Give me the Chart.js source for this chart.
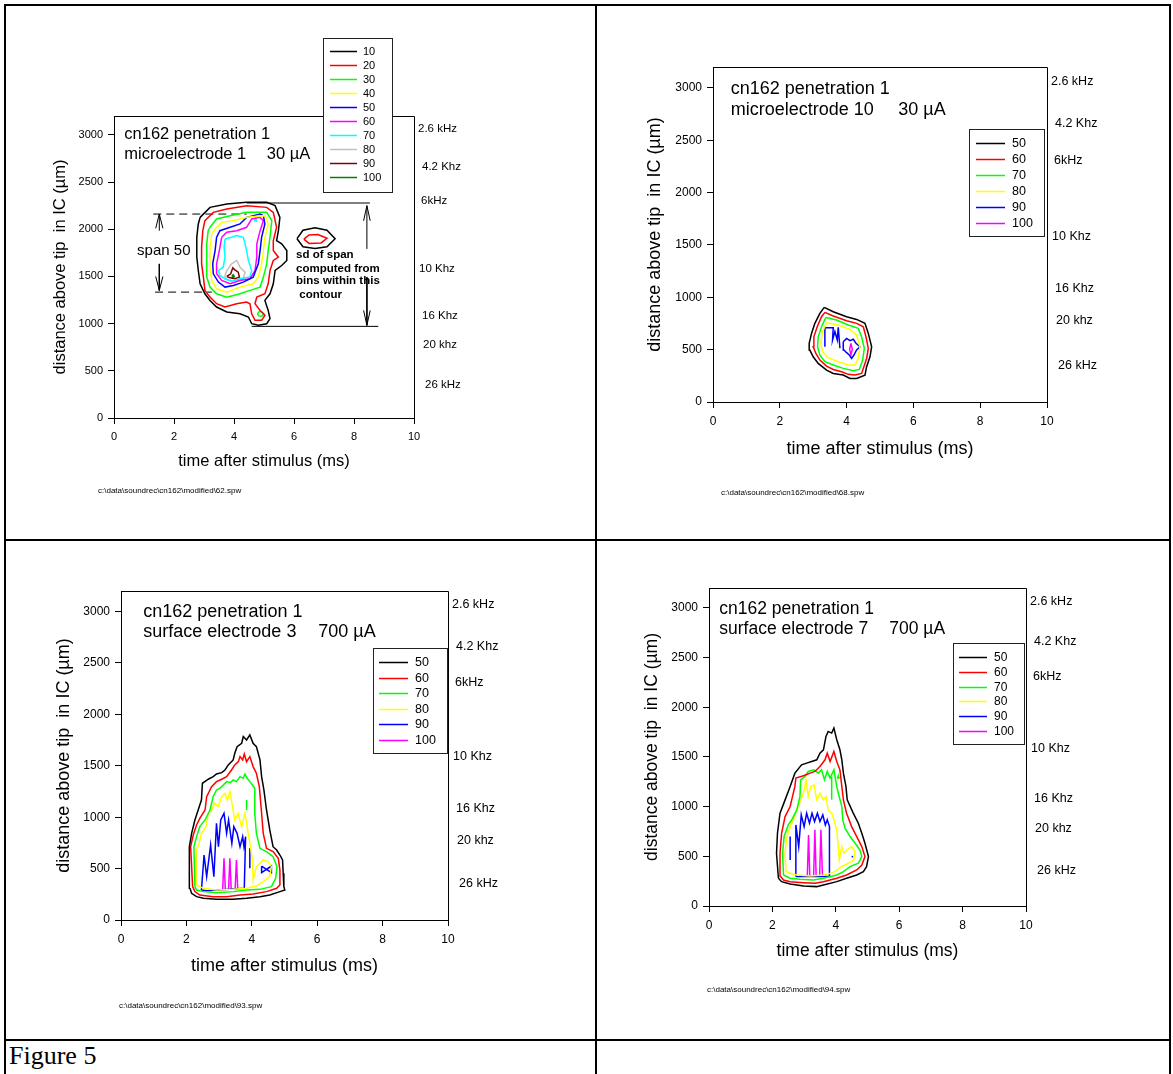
<!DOCTYPE html>
<html><head><meta charset="utf-8">
<script src="https://cdn.jsdelivr.net/npm/chart.js@4.4.1/dist/chart.umd.min.js"></script>
<style>
html,body{margin:0;padding:0;background:#fff;}
body{width:1173px;height:1074px;position:relative;overflow:hidden;}
.ln{position:absolute;background:#000;}
canvas{position:absolute;}
#fig{position:absolute;left:9px;top:1041px;font-family:"Liberation Serif","Times New Roman",serif;font-size:26px;line-height:30px;color:#000;}
</style></head><body>
<div class="ln" style="left:4px;top:4px;width:1167px;height:2px"></div>
<div class="ln" style="left:4px;top:4px;width:2px;height:1070px"></div>
<div class="ln" style="left:1169px;top:4px;width:2px;height:1070px"></div>
<div class="ln" style="left:595px;top:4px;width:2px;height:1070px"></div>
<div class="ln" style="left:4px;top:539px;width:1167px;height:2px"></div>
<div class="ln" style="left:4px;top:1039px;width:1167px;height:2px"></div>
<canvas id="c1"></canvas><canvas id="c2"></canvas><canvas id="c3"></canvas><canvas id="c4"></canvas>
<div id="fig">Figure 5</div>
<script>
// ---------- axis / label data ----------
const xTicks = [0, 2, 4, 6, 8, 10];
const yTicks = [0, 500, 1000, 1500, 2000, 2500, 3000];
const freqLabels = ['2.6 kHz', '4.2 Khz', '6kHz', '10 Khz', '16 Khz', '20 khz', '26 kHz'];
const freqDepths = [3065, 2660, 2305, 1585, 1085, 775, 352];
const levels1 = ['10', '20', '30', '40', '50', '60', '70', '80', '90', '100'];
const levels = ['50', '60', '70', '80', '90', '100'];
const colors1 = ['#000000', '#ff0000', '#00ff00', '#ffff00', '#0000ff', '#ff00ff', '#00ffff', '#c0c0c0', '#800000', '#008000'];
const colors = ['#000000', '#ff0000', '#00ff00', '#ffff00', '#0000ff', '#ff00ff'];

// ---------- panel 1 contours (x ms, y um) ----------
const p1_10 = [2.87,2126, 3.2,2232, 3.76,2267, 4.42,2285, 5.09,2285, 5.37,2250, 5.53,2126, 5.48,1985, 5.42,1880, 5.59,1845, 5.76,1774, 5.76,1669, 5.59,1616, 5.37,1563, 5.31,1422, 5.2,1316, 5.03,1246, 5.14,1140, 5.2,1052, 5.09,999, 4.81,982, 4.59,999, 4.48,1070, 4.2,1105, 3.76,1123, 3.42,1176, 3.2,1246, 3.03,1316, 2.87,1422, 2.81,1563, 2.76,1704, 2.76,1915, 2.81,2056];
const p1_10b = [6.1,1900, 6.3,1990, 6.7,2017, 7.1,1990, 7.37,1900, 7.1,1815, 6.7,1796, 6.3,1815];
const p1_20 = [3.03,2091, 3.31,2179, 3.76,2214, 4.42,2250, 5.09,2232, 5.31,2179, 5.42,2021, 5.31,1880, 5.31,1774, 5.48,1704, 5.31,1669, 5.2,1563, 5.14,1422, 5.03,1316, 4.76,1281, 4.7,1211, 4.87,1140, 5.03,1088, 4.92,1035, 4.7,1035, 4.59,1105, 4.53,1211, 4.42,1228, 4.09,1211, 3.7,1176, 3.42,1211, 3.2,1281, 3.03,1352, 2.98,1492, 2.92,1633, 2.92,1809, 2.96,1985];
const p1_20b = [6.33,1895, 6.5,1940, 6.8,1944, 7.1,1905, 6.9,1855, 6.5,1850];
const p1_30 = [3.2,2021, 3.42,2109, 3.87,2144, 4.42,2179, 5.09,2179, 5.26,2091, 5.2,1915, 5.14,1774, 5.09,1633, 4.98,1493, 4.87,1387, 4.53,1352, 4.2,1316, 3.76,1281, 3.42,1316, 3.2,1387, 3.09,1493, 3.09,1633, 3.09,1845, 3.14,1985];
const p1_30b = [4.78,1105, 4.85,1130, 4.95,1120, 5.0,1100, 4.92,1078, 4.82,1082];
const p1_40 = [3.37,2003, 3.59,2073, 3.98,2091, 4.42,2126, 5.03,2144, 5.14,2056, 5.03,1915, 4.98,1774, 4.92,1633, 4.81,1493, 4.64,1422, 4.2,1387, 3.76,1334, 3.42,1369, 3.26,1457, 3.2,1598, 3.2,1809, 3.26,1950];
const p1_50 = [3.42,1915, 3.53,1985, 3.87,2021, 4.2,2056, 4.42,2126, 4.87,2161, 4.98,2144, 5.03,2056, 4.92,1915, 4.87,1774, 4.81,1633, 4.64,1493, 4.31,1440, 3.98,1405, 3.7,1387, 3.48,1440, 3.31,1528, 3.29,1633, 3.37,1774];
const p1_60 = [3.59,1915, 3.76,1968, 4.09,1985, 4.42,2021, 4.59,2109, 4.87,2126, 4.98,2091, 4.87,1985, 4.76,1845, 4.76,1704, 4.7,1563, 4.53,1475, 4.2,1457, 3.87,1422, 3.59,1457, 3.42,1528, 3.42,1633, 3.51,1774];
const p1_70 = [3.7,1897, 3.92,1915, 4.09,1933, 4.31,1915, 4.37,1845, 4.42,1774, 4.48,1669, 4.59,1563, 4.53,1493, 4.2,1475, 3.92,1450, 3.7,1475, 3.53,1510, 3.48,1563, 3.64,1598, 3.7,1704, 3.67,1809];
const p1_70b = [4.68,2080, 4.72,2125, 4.76,2080];
const p1_80 = [3.7,1510, 3.76,1563, 3.92,1633, 4.09,1669, 4.2,1598, 4.37,1545, 4.31,1475, 4.09,1457, 3.87,1457, 3.7,1475];
const p1_90 = [3.76,1500, 3.89,1528, 3.96,1591, 4.03,1570, 4.14,1545, 4.18,1493, 4.03,1475, 3.87,1485];
const p1_100 = [3.93,1500, 3.97,1518, 4.01,1500, 3.97,1485];
// panel 1 annotation lines
const spanTop = [1.31,2161, 4.42,2161];
const spanBottom = [1.37,1334, 3.26,1334];
const sdTop = [4.42,2278, 8.53,2278];
const sdBottom = [4.59,971, 8.81,971];
const arrowL1 = [1.51,1985, 1.51,2161];
const arrowL1h = [1.39,2010, 1.51,2161, 1.63,2010];
const arrowL2 = [1.51,1633, 1.51,1352];
const arrowL2h = [1.39,1500, 1.51,1352, 1.63,1500];
const arrowR1 = [8.43,1792, 8.43,2250];
const arrowR1h = [8.32,2090, 8.43,2250, 8.54,2090];
const arrowR2 = [8.43,1493, 8.43,982];
const arrowR2h = [8.32,1140, 8.43,982, 8.54,1140];

// ---------- panel 2 ----------
const p2_50 = [3.33,904, 3.6,862, 4.0,815, 4.3,789, 4.55,751, 4.65,655, 4.75,528, 4.7,432, 4.6,337, 4.55,257, 4.3,225, 4.1,225, 3.9,257, 3.6,273, 3.4,305, 3.15,369, 3.0,432, 2.9,496, 2.88,560, 2.95,655, 3.05,751, 3.2,847];
const p2_60 = [3.35,856, 3.6,821, 4.0,776, 4.3,751, 4.5,719, 4.58,623, 4.65,512, 4.6,416, 4.5,321, 4.45,273, 4.25,257, 4.05,264, 3.85,289, 3.6,311, 3.4,343, 3.2,400, 3.08,464, 3.0,528, 3.02,623, 3.12,719, 3.25,815];
const p2_70 = [3.38,808, 3.7,783, 4.05,735, 4.35,703, 4.45,623, 4.53,512, 4.48,400, 4.38,311, 4.2,299, 3.9,321, 3.6,353, 3.35,385, 3.2,448, 3.13,528, 3.15,623, 3.25,719];
const p2_80 = [3.4,757, 3.75,735, 4.1,694, 4.3,639, 4.4,528, 4.35,416, 4.25,353, 4.05,353, 3.75,385, 3.45,423, 3.28,480, 3.23,560, 3.28,671];
const p2_90 = [3.35,528, 3.35,710, 3.6,710, 3.58,592, 3.65,672, 3.72,592, 3.75,714, 3.8,513];
const p2_90b = [3.9,576, 4.0,608, 4.1,586, 4.2,599, 4.28,561, 4.4,528, 4.3,497, 4.22,449, 4.15,417, 4.08,449, 4.0,471, 3.92,497, 3.9,545];
const p2_100 = [4.13,560, 4.17,503, 4.13,450, 4.09,503];

// ---------- panel 3 ----------
const p3_50 = [2.11,308, 2.09,713, 2.16,843, 2.26,973, 2.36,1070, 2.46,1167, 2.49,1330, 2.67,1369, 2.82,1394, 2.92,1420, 3.08,1433, 3.18,1459, 3.28,1508, 3.43,1557, 3.48,1622, 3.55,1686, 3.69,1719, 3.74,1784, 3.84,1751, 3.94,1800, 4.04,1719, 4.14,1686, 4.25,1557, 4.3,1394, 4.37,1265, 4.45,1070, 4.55,876, 4.65,713, 4.76,681, 4.86,632, 4.94,584, 4.96,454, 4.98,324, 5.01,292, 4.86,276, 4.55,243, 4.25,227, 3.84,211, 3.43,201, 2.92,201, 2.52,211, 2.31,227, 2.16,259];
const p3_60 = [2.19,324, 2.13,713, 2.21,827, 2.31,924, 2.41,989, 2.57,1070, 2.62,1200, 2.77,1297, 2.92,1346, 3.08,1369, 3.23,1394, 3.38,1459, 3.48,1508, 3.59,1540, 3.64,1589, 3.72,1557, 3.77,1615, 3.84,1540, 3.94,1589, 4.04,1492, 4.14,1427, 4.23,1297, 4.3,1038, 4.35,843, 4.45,697, 4.65,665, 4.81,600, 4.86,486, 4.86,341, 4.76,308, 4.45,276, 4.04,253, 3.64,243, 3.23,227, 2.82,227, 2.41,243, 2.26,276];
const p3_70 = [2.26,324, 2.23,713, 2.31,811, 2.41,908, 2.57,973, 2.72,1070, 2.82,1200, 2.92,1265, 3.02,1281, 3.13,1313, 3.23,1346, 3.35,1336, 3.43,1362, 3.53,1346, 3.64,1394, 3.74,1378, 3.79,1420, 3.86,1378, 3.94,1346, 4.02,1313, 4.09,1281, 4.09,1038, 4.14,843, 4.25,697, 4.45,665, 4.65,616, 4.77,519, 4.73,405, 4.6,324, 4.25,298, 3.84,292, 3.43,276, 2.92,266, 2.52,276, 2.31,292];
const p3_70b = [3.84,1167, 3.84,1070];
const p3_80 = [2.31,341, 2.31,681, 2.39,746, 2.46,843, 2.6,908, 2.67,1038, 2.77,1070, 2.87,1135, 2.97,1103, 3.08,1200, 3.18,1232, 3.25,1167, 3.33,1248, 3.41,1103, 3.48,973, 3.58,1038, 3.69,908, 3.79,1038, 3.89,843, 3.96,713, 4.02,584, 4.04,389, 4.14,519, 4.25,551, 4.35,584, 4.5,568, 4.6,519, 4.55,422, 4.35,373, 4.14,331, 3.84,308, 3.43,298, 2.92,292, 2.52,308];
const p3_90 = [2.46,292, 2.54,632, 2.62,422, 2.74,730, 2.84,422, 2.92,940, 2.98,713, 3.05,973, 3.15,1038, 3.23,843, 3.29,973, 3.39,746, 3.45,908, 3.55,843, 3.64,713, 3.72,811, 3.76,713, 3.81,811, 3.77,308, 2.62,285];
const p3_90b = [3.94,697, 3.94,503];
const p3_90c = [4.3,525, 4.6,460, 4.6,525, 4.3,460];
const p3_100a = [3.11,300, 3.15,600, 3.19,300];
const p3_100b = [3.29,300, 3.33,600, 3.37,300];
const p3_100c = [3.49,300, 3.53,584, 3.57,300];

// ---------- panel 4 ----------
const p4_50 = [2.19,279, 2.13,531, 2.16,732, 2.24,934, 2.4,1068, 2.56,1203, 2.71,1337, 2.92,1421, 3.08,1438, 3.24,1454, 3.4,1471, 3.5,1538, 3.61,1572, 3.69,1706, 3.76,1757, 3.87,1740, 3.94,1790, 4.03,1673, 4.13,1572, 4.19,1471, 4.24,1337, 4.32,1203, 4.36,1068, 4.55,934, 4.71,833, 4.82,732, 4.92,631, 5.03,497, 4.97,396, 4.87,346, 4.66,312, 4.34,279, 4.03,245, 3.61,212, 3.4,195, 2.98,202, 2.56,222, 2.29,245];
const p4_60 = [2.26,296, 2.24,531, 2.29,732, 2.4,900, 2.56,1001, 2.71,1203, 2.74,1287, 2.98,1310, 3.19,1337, 3.34,1354, 3.5,1404, 3.66,1471, 3.73,1538, 3.82,1454, 3.94,1555, 4.03,1454, 4.13,1370, 4.19,1203, 4.24,1068, 4.34,934, 4.5,799, 4.66,699, 4.82,598, 4.92,497, 4.82,413, 4.66,363, 4.34,312, 4.03,279, 3.61,245, 3.34,228, 2.98,235, 2.56,245, 2.35,262];
const p4_70 = [2.35,312, 2.32,531, 2.37,699, 2.5,816, 2.61,867, 2.77,967, 2.87,1102, 2.89,1270, 3.03,1303, 3.13,1354, 3.31,1371, 3.45,1337, 3.55,1371, 3.64,1270, 3.73,1354, 3.82,1287, 3.94,1371, 4.03,1203, 4.08,1135, 4.19,1001, 4.22,867, 4.29,783, 4.45,699, 4.61,631, 4.76,564, 4.82,497, 4.71,430, 4.45,396, 4.24,346, 4.03,312, 3.61,279, 3.29,262, 2.87,269, 2.56,279];
const p4_70b = [3.87,1303, 3.87,1068];
const p4_70c = [4.05,1280, 4.08,1310, 4.11,1280];
const p4_80 = [2.43,346, 2.4,531, 2.45,682, 2.56,799, 2.66,867, 2.77,967, 2.87,1051, 2.98,1135, 3.06,1270, 3.13,1102, 3.21,1203, 3.31,1219, 3.4,1068, 3.5,1135, 3.61,1068, 3.69,1102, 3.76,967, 3.87,934, 3.94,867, 4.03,766, 4.08,598, 4.11,464, 4.19,598, 4.26,531, 4.34,564, 4.5,598, 4.61,548, 4.57,464, 4.4,430, 4.19,396, 3.92,336, 3.61,312, 3.19,302, 2.77,312, 2.56,329];
const p4_90 = [2.74,296, 2.74,816, 2.83,598, 2.91,917, 3.0,799, 3.08,934, 3.17,833, 3.25,934, 3.33,850, 3.42,934, 3.5,850, 3.59,917, 3.67,816, 3.73,867, 3.8,799, 3.8,296];
const p4_90b = [2.56,699, 2.56,464];
const p4_90c = [4.5,497, 4.55,497];
const p4_100a = [3.1,296, 3.14,715, 3.18,296];
const p4_100b = [3.3,296, 3.34,766, 3.38,296];
const p4_100c = [3.49,296, 3.53,766, 3.58,296];

// ---------- rendering ----------
const FF = '"Liberation Sans", Arial, sans-serif';
Chart.defaults.font.family = FF;
Chart.defaults.color = '#000';

function ds(arr, color, closed, dash, width) {
  const pts = [];
  for (let i = 0; i < arr.length; i += 2) pts.push({x: arr[i], y: arr[i + 1]});
  if (closed) pts.push({x: arr[0], y: arr[1]});
  return {data: pts, showLine: true, borderColor: color, backgroundColor: color, borderWidth: width || 1.5,
          pointRadius: 0, pointHoverRadius: 0, fill: false, tension: 0, borderDash: dash || [], clip: false};
}

const decoPlugin = {
  id: 'deco',
  afterDraw(chart, args, o) {
    const ctx = chart.ctx, a = chart.chartArea, ys = chart.scales.y, xs = chart.scales.x;
    ctx.save();
    ctx.strokeStyle = '#000'; ctx.lineWidth = 1;
    const L = Math.round(a.left) + 0.5, T = Math.round(a.top) + 0.5, R = Math.round(a.right) + 0.5, B = Math.round(a.bottom) + 0.5;
    ctx.beginPath(); ctx.moveTo(L, T); ctx.lineTo(R, T); ctx.lineTo(R, B); ctx.stroke();
    ctx.fillStyle = '#000'; ctx.textBaseline = 'middle'; ctx.textAlign = 'left';
    ctx.font = o.titleSize + 'px ' + FF;
    o.titles.forEach(t => ctx.fillText(t[0], a.left + t[1], a.top + t[2]));
    ctx.font = o.freqSize + 'px ' + FF;
    const fo = [4, 8, 7, 5, 8, 9, 11];
    freqLabels.forEach((s, i) => ctx.fillText(s, a.right + fo[i], ys.getPixelForValue(freqDepths[i])));
    ctx.font = '8px ' + FF;
    ctx.fillText(o.file, a.left + o.fileDx, a.bottom + o.fileDy);
    // legend
    const lg = o.legend;
    const lx = Math.round(a.left + lg.x) + 0.5, ly = Math.round(a.top + lg.y) + 0.5;
    ctx.fillStyle = '#fff'; ctx.fillRect(lx, ly, lg.w, lg.h);
    ctx.strokeStyle = '#222'; ctx.lineWidth = 1; ctx.strokeRect(lx, ly, lg.w, lg.h);
    ctx.font = lg.size + 'px ' + FF; ctx.fillStyle = '#000';
    lg.labels.forEach((s, i) => {
      const yy = Math.round(a.top + lg.row0 + i * lg.step) + 0.5;
      ctx.strokeStyle = lg.colors[i]; ctx.lineWidth = 1.5;
      ctx.beginPath(); ctx.moveTo(a.left + lg.s0, yy); ctx.lineTo(a.left + lg.s1, yy); ctx.stroke();
      ctx.fillText(s, a.left + lg.tx, yy);
    });
    // data-anchored notes
    (o.notes || []).forEach(n => {
      ctx.font = n.font + ' ' + FF;
      n.lines.forEach((s, i) => ctx.fillText(s, xs.getPixelForValue(n.x), ys.getPixelForValue(n.ys[i])));
    });
    ctx.restore();
  }
};

function makeChart(id, canvasRect, plotRect, datasets, st) {
  const cv = document.getElementById(id);
  cv.width = canvasRect[2]; cv.height = canvasRect[3];
  cv.style.left = canvasRect[0] + 'px'; cv.style.top = canvasRect[1] + 'px';
  cv.style.width = canvasRect[2] + 'px'; cv.style.height = canvasRect[3] + 'px';
  const Wy = 70, Hx = 60;
  const pad = {left: plotRect[0] - canvasRect[0] - Wy, top: plotRect[1] - canvasRect[1],
               right: canvasRect[0] + canvasRect[2] - plotRect[2], bottom: canvasRect[1] + canvasRect[3] - plotRect[3] - Hx};
  const lh = st.axisFont * 1.2;
  new Chart(cv, {
    type: 'scatter',
    data: {datasets},
    options: {
      responsive: false, animation: false, devicePixelRatio: 1, events: [],
      layout: {padding: pad},
      plugins: {legend: {display: false}, tooltip: {enabled: false}, deco: st.deco},
      scales: {
        x: {type: 'linear', min: 0, max: 10,
            afterBuildTicks: s => { s.ticks = xTicks.map(v => ({value: v})); },
            afterFit: s => { s.height = Hx; },
            ticks: {font: {size: st.tick}, color: '#000', padding: 6, maxRotation: 0, autoSkip: false, callback: v => String(v)},
            grid: {drawOnChartArea: false, drawTicks: true, tickLength: 6, color: '#000', lineWidth: 1},
            border: {display: true, color: '#000', width: 1},
            title: {display: true, text: 'time after stimulus (ms)', color: '#000', font: {size: st.axisFont},
                    padding: {top: 0, bottom: Hx - lh / 2 - st.dx}}},
        y: {type: 'linear', min: 0, max: 3200,
            afterBuildTicks: s => { s.ticks = yTicks.map(v => ({value: v})); },
            afterFit: s => { s.width = Wy; },
            ticks: {font: {size: st.tick}, color: '#000', padding: 5, autoSkip: false, callback: v => String(v)},
            grid: {drawOnChartArea: false, drawTicks: true, tickLength: 6, color: '#000', lineWidth: 1},
            border: {display: true, color: '#000', width: 1},
            title: {display: true, text: 'distance above tip  in IC (\u00b5m)', color: '#000', font: {size: st.axisFont},
                    padding: {top: Wy - lh / 2 - st.dy, bottom: 0}}}
      }
    },
    plugins: [decoPlugin]
  });
}

// Panel 1
const d1 = [
  ds(p1_10, colors1[0], true), ds(p1_10b, colors1[0], true),
  ds(p1_20, colors1[1], true), ds(p1_20b, colors1[1], true),
  ds(p1_30, colors1[2], true), ds(p1_30b, colors1[2], true),
  ds(p1_40, colors1[3], true), ds(p1_50, colors1[4], true), ds(p1_60, colors1[5], true),
  ds(p1_70, colors1[6], true), ds(p1_70b, colors1[6], false),
  ds(p1_80, colors1[7], true), ds(p1_90, colors1[8], true), ds(p1_100, colors1[9], true),
  ds(spanTop, '#000', false, [8, 5], 1), ds(spanBottom, '#000', false, [8, 5], 1),
  ds(sdTop, '#000', false, null, 1), ds(sdBottom, '#000', false, null, 1),
  ds(arrowL1, '#000', false, null, 1), ds(arrowL1h, '#000', false, null, 1), ds(arrowL2, '#000', false, null, 1), ds(arrowL2h, '#000', false, null, 1),
  ds(arrowR1, '#000', false, null, 1), ds(arrowR1h, '#000', false, null, 1), ds(arrowR2, '#000', false, null, 1), ds(arrowR2h, '#000', false, null, 1)
];
makeChart('c1', [6, 6, 589, 533], [114, 116, 414, 418], d1, {
  tick: 11, axisFont: 16.5, dx: 43, dy: 54,
  deco: {
    titleSize: 16.5, freqSize: 11.5,
    titles: [['cn162 penetration 1', 10.3, 18.3], ['microelectrode 1', 10.3, 38.3], ['30 \u00b5A', 152.7, 38.3]],
    file: 'c:\\data\\soundrec\\cn162\\modified\\62.spw', fileDx: -16, fileDy: 73,
    legend: {x: 209, y: -78, w: 69, h: 154, row0: -65, step: 14, s0: 216, s1: 243, tx: 249, size: 11, labels: levels1, colors: colors1},
    notes: [
      {x: 0.77, ys: [1775], lines: ['span 50'], font: '15px'},
      {x: 6.07, ys: [1732, 1581, 1450, 1307], lines: ['sd of span', 'computed from', 'bins within this', ' contour'], font: 'bold 11.5px'}
    ]
  }
});

// Panel 2
const d2 = [
  ds(p2_50, colors[0], true), ds(p2_60, colors[1], true), ds(p2_70, colors[2], true), ds(p2_80, colors[3], true),
  ds(p2_90, colors[4], false), ds(p2_90b, colors[4], true), ds(p2_100, colors[5], true)
];
makeChart('c2', [597, 6, 572, 533], [713, 67, 1047, 402], d2, {
  tick: 12, axisFont: 18, dx: 47, dy: 58,
  deco: {
    titleSize: 18, freqSize: 12.5,
    titles: [['cn162 penetration 1', 17.7, 22.3], ['microelectrode 10', 17.7, 43], ['30 \u00b5A', 185.3, 43]],
    file: 'c:\\data\\soundrec\\cn162\\modified\\68.spw', fileDx: 8, fileDy: 91,
    legend: {x: 256, y: 62, w: 75, h: 107, row0: 76.3, step: 16, s0: 263, s1: 292, tx: 299, size: 12.5, labels: levels, colors: colors}
  }
});

// Panel 3
const d3 = [
  ds(p3_50, colors[0], true), ds(p3_60, colors[1], true), ds(p3_70, colors[2], true), ds(p3_70b, colors[2], false),
  ds(p3_80, colors[3], true), ds(p3_90, colors[4], true), ds(p3_90b, colors[4], false), ds(p3_90c, colors[4], true),
  ds(p3_100a, colors[5], false), ds(p3_100b, colors[5], false), ds(p3_100c, colors[5], false)
];
makeChart('c3', [6, 541, 589, 498], [121, 591, 448, 920], d3, {
  tick: 12, axisFont: 18, dx: 46, dy: 57,
  deco: {
    titleSize: 18, freqSize: 12.5,
    titles: [['cn162 penetration 1', 22.3, 20.7], ['surface electrode 3', 22.3, 40.7], ['700 \u00b5A', 197.3, 40.7]],
    file: 'c:\\data\\soundrec\\cn162\\modified\\93.spw', fileDx: -2, fileDy: 86,
    legend: {x: 252, y: 57, w: 74, h: 105, row0: 71.3, step: 15.5, s0: 258, s1: 287, tx: 294, size: 12.5, labels: levels, colors: colors}
  }
});

// Panel 4
const d4 = [
  ds(p4_50, colors[0], true), ds(p4_60, colors[1], true), ds(p4_70, colors[2], true), ds(p4_70b, colors[2], false), ds(p4_70c, colors[2], false),
  ds(p4_80, colors[3], true), ds(p4_90, colors[4], true), ds(p4_90b, colors[4], false), ds(p4_90c, colors[4], false),
  ds(p4_100a, colors[5], false), ds(p4_100b, colors[5], false), ds(p4_100c, colors[5], false)
];
makeChart('c4', [597, 541, 572, 498], [709, 588, 1026, 906], d4, {
  tick: 12, axisFont: 17.5, dx: 45, dy: 57,
  deco: {
    titleSize: 17.5, freqSize: 12.5,
    titles: [['cn162 penetration 1', 10.3, 21.3], ['surface electrode 7', 10.3, 41.3], ['700 \u00b5A', 180.3, 41.3]],
    file: 'c:\\data\\soundrec\\cn162\\modified\\94.spw', fileDx: -2, fileDy: 84,
    legend: {x: 244, y: 55, w: 71, h: 101, row0: 68.7, step: 14.9, s0: 250, s1: 278, tx: 285, size: 12, labels: levels, colors: colors}
  }
});
</script>
</body></html>
